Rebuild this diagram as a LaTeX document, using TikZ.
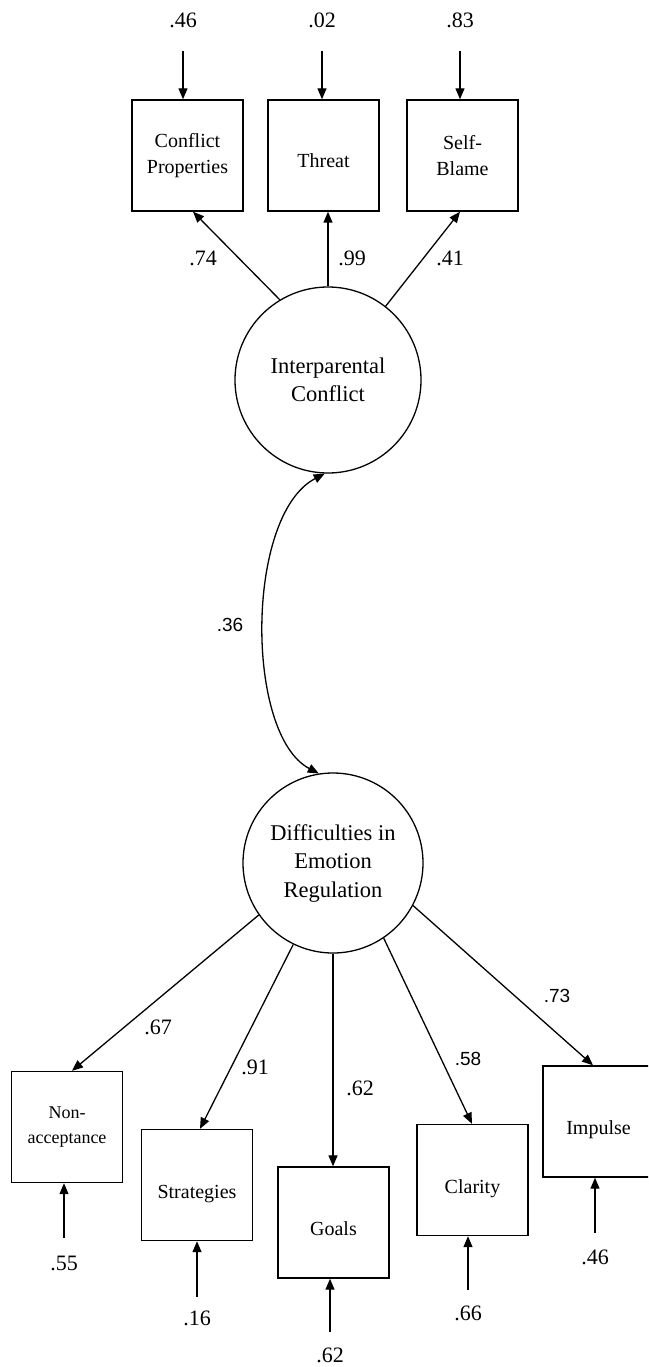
\documentclass[tikz,border=0pt]{standalone}
\usepackage{fontspec}
\setmainfont{Liberation Serif}
\newfontfamily\arialfont{Liberation Sans}
\usetikzlibrary{arrows.meta}
\begin{document}
\begin{tikzpicture}[x=1pt,y=-1pt,
  box/.style={draw, line width=1.4pt, minimum width=111pt, minimum height=111pt, inner sep=0pt, align=center, font=\fontsize{20}{26}\selectfont},
  sbox/.style={box, text height=26pt, text depth=0pt},
  latent/.style={draw, circle, line width=1.3pt, minimum size=186pt, inner sep=0pt, align=center, font=\fontsize{22.5}{28.5}\selectfont},
  lbl/.style={font=\fontsize{22}{26}\selectfont, inner sep=0pt},
  slbl/.style={font=\arialfont\fontsize{19}{23}\selectfont, inner sep=0pt},
  arr/.style={-{Triangle[length=11pt,width=9pt]}, line width=1.3pt},
  dbl/.style={{Triangle[length=11pt,width=9pt]}-{Triangle[length=11pt,width=9pt]}, line width=1.3pt}]
\useasboundingbox (0,0) rectangle (648,1367);
\clip (0,0) rectangle (648,1367);
% indicators top
\node[box] (cp) at (187.5,155.5) {Conflict\\Properties};
\node[sbox, text height=24pt] (th) at (323.5,155.5) {Threat};
\node[box] (sb) at (462.5,155.5) {Self-\\Blame};
% latents
\node[latent] (ic) at (328,380) {Interparental\\Conflict};
\node[latent, minimum size=180pt] (der) at (333,863) {Difficulties in\\Emotion\\Regulation};
% indicators bottom
\node[box, font=\fontsize{18}{25}\selectfont] (na) at (67,1127) {Non-\\acceptance};
\node[sbox] (st) at (197,1185) {Strategies};
\node[sbox] (go) at (333.5,1222.5) {Goals};
\node[sbox] (cl) at (472.5,1180) {Clarity};
\node[sbox] (im) at (598.5,1121.5) {Impulse};
% error labels top
\node[lbl] (v1) at (183,20) {.46};
\node[lbl] (v2) at (322,20) {.02};
\node[lbl] (v3) at (460,20) {.83};
\draw[arr] ([yshift=-31pt]v1.center) -- (v1.center |- cp.north);
\draw[arr] ([yshift=-31pt]v2.center) -- (v2.center |- th.north);
\draw[arr] ([yshift=-31pt]v3.center) -- (v3.center |- sb.north);
% loadings top
\draw[arr] (ic.121) -- ([xshift=5.5pt]cp.south);
\draw[arr] (ic.90) -- (ic.90 |- th.south);
\draw[arr] (ic.52.5) -- ([xshift=-2.5pt]sb.south);
\node[lbl] (l1) at (203,258) {.74};
\node[lbl] (l2) at (352,258) {.99};
\node[lbl] (l3) at (450,258) {.41};
% correlation
\draw[dbl] (ic.-92) .. controls (245,515) and (245,735) .. (der.99.4);
\node[slbl] (r) at (230,625) {.36};
% loadings bottom
\draw[arr] (der.-145) -- ([xshift=5pt]na.north);
\draw[arr] (der.-116) -- ([xshift=3pt]st.north);
\draw[arr] (der.-90) -- (der.-90 |- go.north);
\draw[arr] (der.-56.8) -- ([xshift=-0.5pt]cl.north);
\draw[arr] (der.-28) -- ([xshift=-5.5pt]im.north);
\node[lbl] (m1) at (158,1027) {.67};
\node[lbl] (m2) at (255,1067) {.91};
\node[lbl] (m3) at (360,1088) {.62};
\node[slbl] (m4) at (468,1059) {.58};
\node[slbl] (m5) at (557,996) {.73};
% error labels bottom
\node[lbl] (u1) at (64,1263) {.55};
\node[lbl] (u2) at (197,1318) {.16};
\node[lbl] (u3) at (330,1355) {.62};
\node[lbl] (u4) at (468,1313) {.66};
\node[lbl] (u5) at (595,1257) {.46};
\draw[arr] ([yshift=25pt]u1.center) -- (u1.center |- na.south);
\draw[arr] ([yshift=21pt]u2.center) -- (u2.center |- st.south);
\draw[arr] ([yshift=23pt]u3.center) -- (u3.center |- go.south);
\draw[arr] ([yshift=23pt]u4.center) -- (u4.center |- cl.south);
\draw[arr] ([yshift=24pt]u5.center) -- (u5.center |- im.south);
\end{tikzpicture}
\end{document}
